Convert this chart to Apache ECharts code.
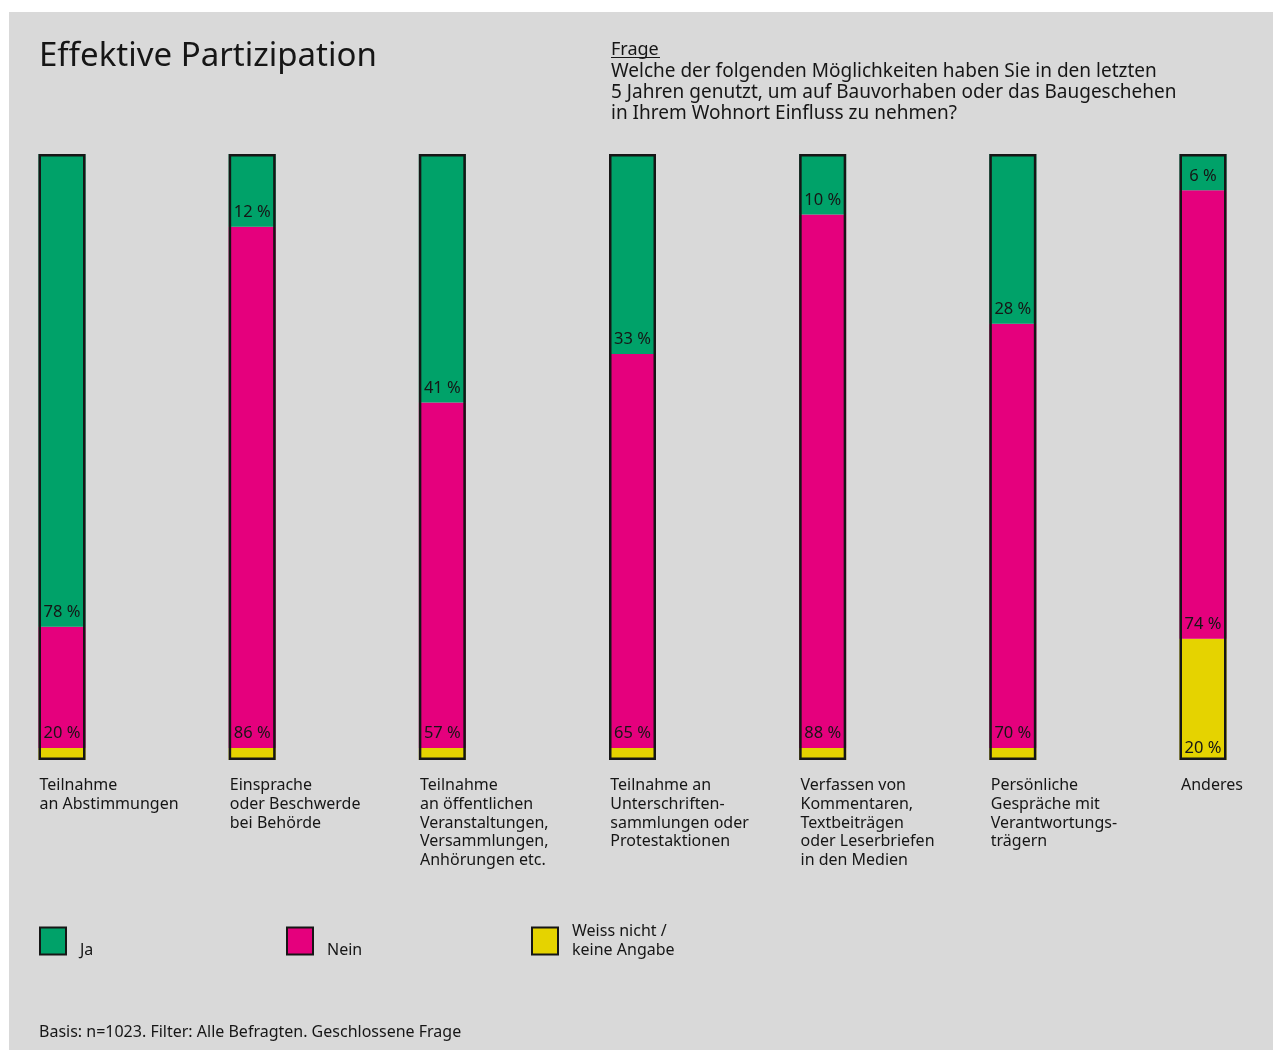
<!DOCTYPE html>
<html lang="de">
<head>
<meta charset="utf-8">
<title>Effektive Partizipation</title>
<script src="https://cdn.jsdelivr.net/npm/echarts@6/dist/echarts.min.js"></script>
<style>
  html, body { margin: 0; padding: 0; background: #ffffff; }
  #chart { position: absolute; left: 9px; top: 12px; width: 1264px; height: 1038px; }
</style>
</head>
<body>
<div id="chart"></div>
<script>
// Antwortkategorien (x-Achse)
const categories = [
  'Teilnahme\nan Abstimmungen',
  'Einsprache\noder Beschwerde\nbei Behörde',
  'Teilnahme\nan öffentlichen\nVeranstaltungen,\nVersammlungen,\nAnhörungen etc.',
  'Teilnahme an\nUnterschriften-\nsammlungen oder\nProtestaktionen',
  'Verfassen von\nKommentaren,\nTextbeiträgen\noder Leserbriefen\nin den Medien',
  'Persönliche\nGespräche mit\nVerantwortungs-\nträgern',
  'Anderes'
];

// Anteile in Prozent
const ja = [78, 12, 41, 33, 10, 28, 6];
const nein = [20, 86, 57, 65, 88, 70, 74];
const weissNicht = [2, 2, 2, 2, 2, 2, 20];

const seriesNames = ['Ja', 'Nein', 'Weiss nicht /\nkeine Angabe'];
const colors = { ja: '#00a269', nein: '#e5007d', weissNicht: '#e5d300' };

const FONT = '"Noto Sans", "DejaVu Sans", sans-serif';
const INK = '#161616';

const totals = ja.map((v, i) => v + nein[i] + weissNicht[i]);

const chart = echarts.init(document.getElementById('chart'), null, { renderer: 'canvas' });

const segLabel = (minValue, distance) => ({
  show: true,
  position: 'insideBottom',
  distance: distance,
  color: INK,
  fontFamily: FONT,
  fontSize: 16.5,
  formatter: (p) => (p.value >= minValue ? p.value + ' %' : '')
});

const BAR_W = 47;

// Legendeneintrag: Symbol links, Text unten bündig daneben
const legendItem = (name, left) => ({
  data: [name], left: left, top: 910, padding: 0,
  icon: 'rect', itemWidth: 26, itemHeight: 27,
  itemStyle: { borderColor: INK, borderWidth: 2 },
  formatter: (n) => (n.indexOf('\n') >= 0 ? n : '\n' + n),
  textStyle: { fontFamily: FONT, fontSize: 16, lineHeight: 19, color: INK, padding: [0, 0, 0, 9] },
  selectedMode: false
});

const option = {
  backgroundColor: '#d9d9d9',
  animation: false,
  textStyle: { fontFamily: FONT, color: INK },
  grid: [
    { left: 53, right: 70, top: 142, bottom: 290 },
    { left: 30.5, right: 92, top: 142, bottom: 290 }
  ],
  xAxis: [
    {
      type: 'category', gridIndex: 0, data: categories, boundaryGap: false,
      axisLine: { show: false }, axisTick: { show: false }, axisLabel: { show: false }
    },
    {
      type: 'category', gridIndex: 1, data: categories, boundaryGap: false,
      axisLine: { show: false }, axisTick: { show: false }, splitLine: { show: false },
      axisLabel: {
        show: true, interval: 0, align: 'left', verticalAlign: 'top', margin: 16,
        fontFamily: FONT, fontSize: 16, lineHeight: 18.8, color: INK
      }
    }
  ],
  yAxis: [
    { type: 'value', gridIndex: 0, min: 0, max: 100, show: false },
    { type: 'value', gridIndex: 1, min: 0, max: 100, show: false }
  ],
  legend: [
    legendItem(seriesNames[0], 30),
    legendItem(seriesNames[1], 277),
    legendItem(seriesNames[2], 522)
  ],
  series: [
    {
      name: seriesNames[2], type: 'bar', stack: 'anteil', data: weissNicht,
      barWidth: BAR_W, itemStyle: { color: colors.weissNicht },
      label: segLabel(5, 3)
    },
    {
      name: seriesNames[1], type: 'bar', stack: 'anteil', data: nein,
      barWidth: BAR_W, itemStyle: { color: colors.nein },
      label: segLabel(5, 6)
    },
    {
      name: seriesNames[0], type: 'bar', stack: 'anteil', data: ja,
      barWidth: BAR_W, itemStyle: { color: colors.ja },
      label: segLabel(5, 6)
    },
    {
      // schwarzer Rahmen um den gesamten Balken
      name: 'Gesamt', type: 'bar', data: totals, barWidth: BAR_W, barGap: '-100%',
      z: 5, silent: true,
      itemStyle: { color: 'rgba(0,0,0,0)', borderColor: INK, borderWidth: 2.5 },
      label: { show: false }
    }
  ],
  graphic: [
    {
      type: 'text', left: 30, top: 28,
      style: { text: 'Effektive Partizipation', fontFamily: FONT, fontSize: 33, fill: INK }
    },
    {
      type: 'text', x: 602, y: 37.5,
      style: { text: 'Frage', fontFamily: FONT, fontSize: 18, fill: INK, verticalAlign: 'middle' }
    },
    {
      type: 'line', shape: { x1: 602, y1: 45.5, x2: 651, y2: 45.5 },
      style: { stroke: INK, lineWidth: 1.2 }
    },
    {
      type: 'text', x: 602, y: 49.5,
      style: {
        text: 'Welche der folgenden Möglichkeiten haben Sie in den letzten\n5 Jahren genutzt, um auf Bauvorhaben oder das Baugeschehen\nin Ihrem Wohnort Einfluss zu nehmen?',
        fontFamily: FONT, fontSize: 19, lineHeight: 21, fill: INK, verticalAlign: 'top'
      }
    },
    {
      type: 'text', x: 30, y: 1020,
      style: {
        text: 'Basis: n=1023. Filter: Alle Befragten. Geschlossene Frage',
        fontFamily: FONT, fontSize: 16, fill: INK, verticalAlign: 'middle'
      }
    }
  ]
};

chart.setOption(option);
</script>
</body>
</html>
